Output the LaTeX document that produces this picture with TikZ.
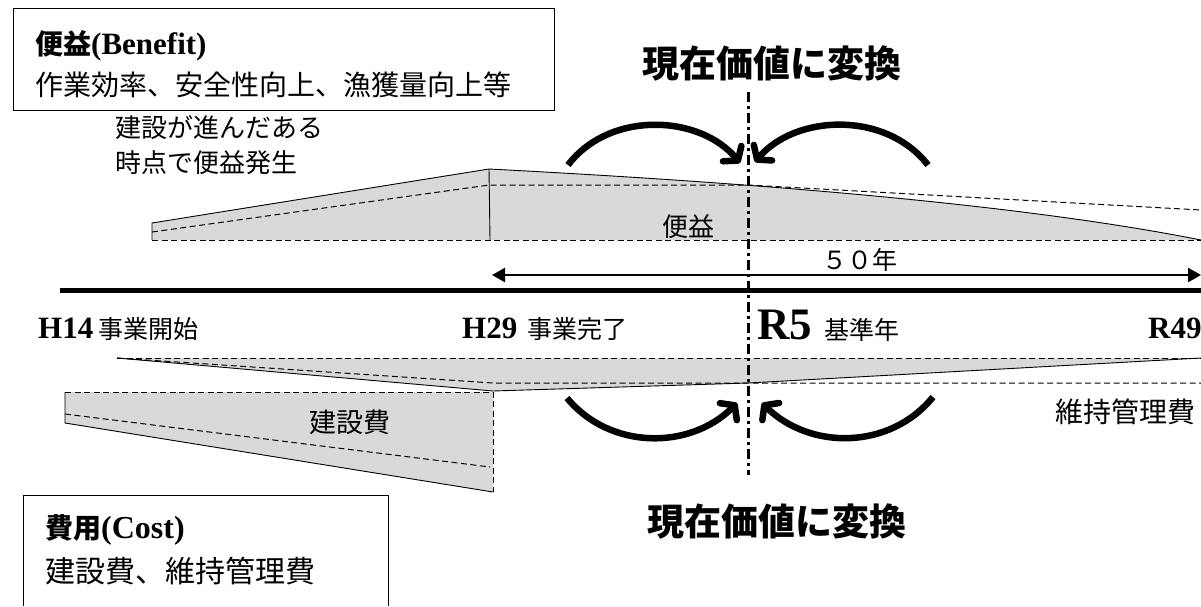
\documentclass[tikz,border=0pt]{standalone}
\usepackage{fontspec}
\setmainfont{Liberation Serif}
\newfontfamily\jp{Noto Sans CJK JP}
\usetikzlibrary{arrows.meta}
\definecolor{shadefill}{HTML}{D9D9D9}
\begin{document}
\begin{tikzpicture}[x=1pt,y=-1pt,
  thinline/.style={line width=0.9pt},
  dashline/.style={line width=1pt, dash pattern=on 6pt off 3.5pt},
  conv/.style={line width=6.5pt, -{Straight Barb[length=9pt,width=24pt,round]}},
  jptext/.style={inner sep=0pt},
  dashdot/.style={line width=3pt, dash pattern=on 10pt off 4pt on 3pt off 4pt}
]
\useasboundingbox (0,0) rectangle (1201,606);

% ---------- benefit box ----------
\node[draw, thinline, anchor=north west, minimum width=541pt, minimum height=102pt, inner sep=0pt] (bbox) at (13,8) {};
\node[jptext, anchor=base west, font=\jp\bfseries\fontsize{28}{30}\selectfont] (btitle) at (35,54) {便益{\rmfamily\fontsize{31}{34}\selectfont(Benefit)}};
\node[jptext, anchor=west, font=\jp\fontsize{28}{32}\selectfont] (bdesc) at (35,85) {作業効率、安全性向上、漁獲量向上等};

\node[jptext, anchor=north west, align=left, font=\jp\fontsize{26}{35}\selectfont] (note) at (115,115) {建設が進んだある\\時点で便益発生};

% ---------- benefit shape ----------
\fill[shadefill] (152,240) -- (152,223) -- (489,169) .. controls (700,180) and (1000,200) .. (1201,240) -- cycle;
\draw[thinline] (152,240) -- (152,223) -- (489,169) .. controls (700,180) and (1000,200) .. (1201,240);
\draw[thinline] (489,169) -- (490,240);
\draw[dashline] (152,240) -- (1201,240);
\draw[dashline] (152,232) -- (489,185) -- (748,185) -- (1201,210);
\node[jptext, font=\jp\fontsize{26}{30}\selectfont] (benlab) at (688,227) {便益};

% ---------- maintenance shape ----------
\fill[shadefill] (117,358) -- (1201,358) -- (748,383) -- (493,391) -- cycle;
\draw[thinline] (117,358) -- (493,391) -- (748,383) -- (1201,358);
\draw[dashline] (117,358) -- (1201,358);
\draw[dashline] (117,358) -- (493,383) -- (1201,383);
\node[jptext, font=\jp\fontsize{28}{32}\selectfont] (mainlab) at (1125,412) {維持管理費};

% ---------- construction shape ----------
\fill[shadefill] (65,392) -- (493,392) -- (493,492) -- (65,423) -- cycle;
\draw[thinline] (493,492) -- (65,423) -- (65,392);
\draw[dashline] (65,392) -- (493,392) -- (493,492);
\draw[dashline] (65,414) -- (490,467);
\node[jptext, font=\jp\fontsize{27}{30}\selectfont] (conlab) at (350,422) {建設費};

% ---------- time line ----------
\coordinate (tl0) at (60,290);
\coordinate (tl1) at (1201,290);
\draw[line width=5pt] (tl0) -- (tl1);
\coordinate (fa) at (492,275);
\coordinate (fb) at (1201,275);
\draw[line width=2.5pt, {Triangle[length=13pt,width=14pt]}-{Triangle[length=13pt,width=14pt]}] (fa) -- (fb);
\node[jptext, font=\jp\fontsize{25}{30}\selectfont] (fifty) at (860,260) {５０年};

\node[jptext, anchor=base west, font=\bfseries\fontsize{31}{34}\selectfont] (h14) at (38,338) {H14\hspace{5pt}{\jp\mdseries\fontsize{25}{30}\selectfont 事業開始}};
\node[jptext, anchor=base west, font=\bfseries\fontsize{31}{34}\selectfont] (h29) at (462,338) {H29\hspace{10pt}{\jp\mdseries\fontsize{25}{30}\selectfont 事業完了}};
\node[jptext, anchor=base west, font=\bfseries\fontsize{45}{48}\selectfont] (r5) at (757,339) {R5\hspace{12pt}{\jp\mdseries\fontsize{25}{30}\selectfont 基準年}};
\node[jptext, anchor=base west, font=\bfseries\fontsize{31}{34}\selectfont] (r49) at (1148,338) {R49};

% ---------- reference year line ----------
\coordinate (vtop) at (748,92);
\coordinate (vbot) at (748,475);
\draw[dashdot] (vtop) -- (vbot);

% ---------- conversion arrows ----------
\coordinate (ula) at (568,165); \coordinate (ulb) at (740,163);
\draw[conv] (ula) .. controls (610,110) and (700,115) .. (ulb);
\coordinate (ura) at (928,165); \coordinate (urb) at (755,162);
\draw[conv] (ura) .. controls (885,110) and (795,115) .. (urb);
\coordinate (lla) at (567,398); \coordinate (llb) at (737,403);
\draw[conv] (lla) .. controls (610,450) and (690,450) .. (llb);
\coordinate (lra) at (933,397); \coordinate (lrb) at (762,403);
\draw[conv] (lra) .. controls (890,450) and (810,450) .. (lrb);

\node[jptext, font=\jp\bfseries\fontsize{37}{40}\selectfont] (ttop) at (772,64) {現在価値に変換};
\node[jptext, font=\jp\bfseries\fontsize{37}{40}\selectfont] (tbot) at (777,522) {現在価値に変換};

% ---------- cost box ----------
\coordinate (cb1) at (23,606);
\coordinate (cb2) at (23,495);
\coordinate (cb3) at (388,495);
\coordinate (cb4) at (388,606);
\draw[thinline] (cb1) -- (cb2) -- (cb3) -- (cb4);
\node[jptext, anchor=base west, font=\jp\bfseries\fontsize{28}{30}\selectfont] (ctitle) at (45,538) {費用{\rmfamily\fontsize{32}{34}\selectfont(Cost)}};
\node[jptext, anchor=west, font=\jp\fontsize{30}{34}\selectfont] (cdesc) at (45,571) {建設費、維持管理費};
\end{tikzpicture}
\end{document}
